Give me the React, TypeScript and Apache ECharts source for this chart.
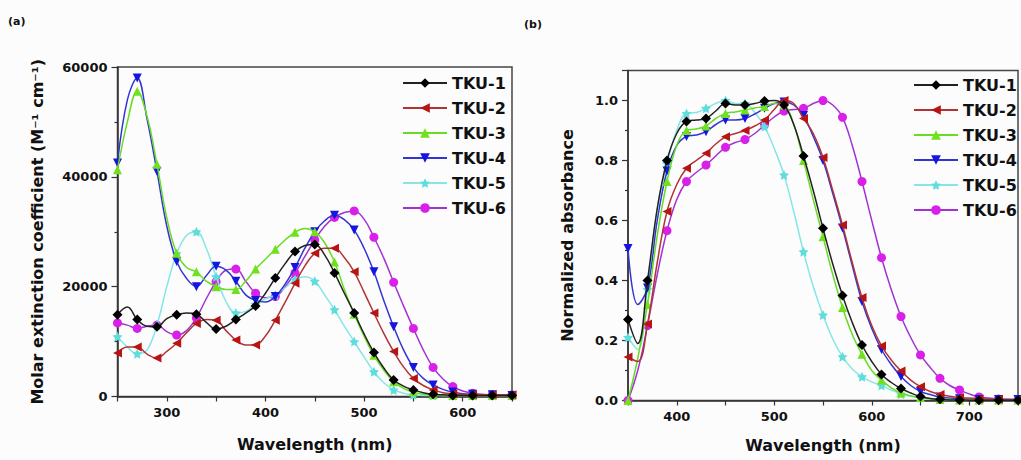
import React, { useEffect, useRef } from "react";
import * as echarts from "echarts";

const names = ["TKU-1", "TKU-2", "TKU-3", "TKU-4", "TKU-5", "TKU-6"];

// Panel (a): wavelength (nm)
const wlA = [250, 260, 270, 280, 290, 300, 310, 320, 330, 340, 350, 360, 370, 380, 390, 400, 410, 420, 430, 440, 450, 460, 470, 480, 490, 500, 510, 520, 530, 540, 550, 560, 570, 580, 590, 600, 610, 620, 630, 640, 650];
const a1 = [14900, 16300, 14000, 12800, 12700, 14200, 14900, 15200, 15000, 13500, 12300, 12800, 14000, 15200, 16500, 18800, 21600, 24200, 26400, 27500, 27700, 25800, 22500, 18800, 15200, 11400, 8000, 5200, 3000, 1900, 1200, 700, 400, 300, 200, 200, 200, 200, 200, 200, 200];
const a2 = [7900, 9000, 9000, 7700, 7000, 8200, 9700, 11600, 13300, 14000, 13900, 12000, 10300, 9400, 9400, 11000, 13900, 17200, 20600, 23800, 26100, 27000, 27000, 25300, 22700, 19000, 15200, 11500, 8200, 5400, 3300, 2000, 1200, 700, 500, 400, 300, 300, 300, 300, 300];
const a3 = [41300, 50000, 55600, 51000, 42300, 32500, 26100, 23500, 22700, 21000, 20000, 19500, 19500, 21000, 23200, 25000, 26800, 28500, 29900, 30600, 30000, 28000, 24500, 19500, 15000, 11000, 7500, 4800, 2700, 1500, 800, 400, 300, 200, 200, 200, 200, 200, 200, 200, 200];
const a4 = [42500, 54000, 58000, 50500, 41000, 31000, 24600, 21500, 20000, 22000, 23700, 23000, 21000, 18500, 17500, 17200, 18200, 20500, 23500, 27000, 30000, 32000, 33000, 32200, 30300, 27000, 22700, 17500, 12700, 8500, 5300, 3300, 2100, 1300, 800, 500, 400, 300, 300, 300, 200];
const a5 = [10900, 9000, 7800, 8500, 13000, 20000, 26000, 29300, 30000, 27000, 21800, 17300, 15200, 15500, 16800, 17800, 18500, 19800, 21300, 21800, 21000, 18500, 15800, 12800, 10000, 7200, 4500, 2500, 1200, 600, 300, 200, 200, 200, 200, 200, 200, 200, 200, 200, 200];
const a6 = [13400, 13000, 12400, 12800, 13000, 11800, 11200, 12000, 14300, 17800, 20900, 23000, 23200, 21000, 18800, 18000, 18200, 20000, 22500, 25500, 28500, 31000, 32600, 33500, 33800, 32300, 29000, 25200, 20800, 16500, 12400, 8500, 5300, 3200, 1800, 1000, 600, 400, 300, 300, 300];

// Panel (b): wavelength (nm)
const wlB = [350, 360, 370, 380, 390, 400, 410, 420, 430, 440, 450, 460, 470, 480, 490, 500, 510, 520, 530, 540, 550, 560, 570, 580, 590, 600, 610, 620, 630, 640, 650, 660, 670, 680, 690, 700, 710, 720, 730, 740, 750];
const b1 = [0.27, 0.19, 0.4, 0.64, 0.8, 0.89, 0.93, 0.935, 0.94, 0.965, 0.99, 0.985, 0.985, 0.99, 0.998, 1.0, 0.985, 0.92, 0.815, 0.7, 0.574, 0.455, 0.35, 0.26, 0.185, 0.13, 0.087, 0.06, 0.04, 0.025, 0.013, 0.007, 0.004, 0.002, 0.002, 0.001, 0.001, 0.001, 0.001, 0.001, 0.001];
const b2 = [0.145, 0.13, 0.255, 0.46, 0.63, 0.72, 0.774, 0.8, 0.824, 0.855, 0.879, 0.89, 0.9, 0.915, 0.935, 0.97, 1.0, 0.99, 0.94, 0.89, 0.81, 0.7, 0.585, 0.46, 0.343, 0.25, 0.182, 0.135, 0.098, 0.068, 0.046, 0.03, 0.02, 0.014, 0.01, 0.008, 0.006, 0.005, 0.004, 0.003, 0.003];
const b3 = [0.0, 0.14, 0.32, 0.55, 0.73, 0.85, 0.9, 0.905, 0.915, 0.94, 0.957, 0.962, 0.968, 0.975, 0.98, 0.99, 0.985, 0.92, 0.8, 0.67, 0.546, 0.42, 0.31, 0.22, 0.154, 0.1, 0.068, 0.042, 0.025, 0.015, 0.01, 0.006, 0.003, 0.003, 0.002, 0.002, 0.002, 0.002, 0.002, 0.002, 0.002];
const b4 = [0.507, 0.32, 0.375, 0.6, 0.765, 0.85, 0.88, 0.885, 0.896, 0.92, 0.935, 0.935, 0.94, 0.955, 0.974, 0.99, 0.995, 0.985, 0.95, 0.88, 0.8, 0.69, 0.575, 0.45, 0.33, 0.24, 0.17, 0.12, 0.08, 0.05, 0.03, 0.02, 0.012, 0.008, 0.006, 0.004, 0.003, 0.003, 0.003, 0.003, 0.003];
const b5 = [0.21, 0.17, 0.37, 0.64, 0.79, 0.9, 0.957, 0.96, 0.974, 0.99, 1.0, 0.99, 0.99, 0.96, 0.913, 0.84, 0.752, 0.63, 0.496, 0.38, 0.285, 0.205, 0.146, 0.105, 0.079, 0.062, 0.05, 0.035, 0.022, 0.014, 0.009, 0.005, 0.004, 0.003, 0.003, 0.003, 0.003, 0.003, 0.003, 0.003, 0.003];
const b6 = [0.0, 0.1, 0.25, 0.42, 0.566, 0.67, 0.73, 0.76, 0.785, 0.815, 0.844, 0.86, 0.87, 0.89, 0.918, 0.945, 0.965, 0.97, 0.974, 0.99, 1.0, 0.985, 0.944, 0.85, 0.73, 0.6, 0.476, 0.37, 0.28, 0.21, 0.152, 0.11, 0.074, 0.05, 0.035, 0.022, 0.012, 0.008, 0.005, 0.003, 0.002];

const STAR = "path://M0,-10L2.9,-4L9.5,-3.1L4.8,1.5L5.9,8.1L0,5L-5.9,8.1L-4.8,1.5L-9.5,-3.1L-2.9,-4Z";

const styles = [
  { line: "#222222", mark: "#000000", symbol: "diamond", rotate: 0, size: 10 },
  { line: "#b03434", mark: "#b81414", symbol: "triangle", rotate: 90, size: 9 },
  { line: "#66dd22", mark: "#6fe21c", symbol: "triangle", rotate: 0, size: 9 },
  { line: "#3434d4", mark: "#1515e0", symbol: "triangle", rotate: 180, size: 9 },
  { line: "#86e6e6", mark: "#5fdcdc", symbol: STAR, rotate: 0, size: 10 },
  { line: "#a332d2", mark: "#d820e8", symbol: "circle", rotate: 0, size: 9 },
];

const FONT = "DejaVu Sans";

function pairs(xs: number[], ys: number[]) {
  return xs.map((x, i) => [x, ys[i]]);
}

export default function App() {
  const ref = useRef<HTMLDivElement>(null);
  useEffect(() => {
    if (!ref.current) return;
    const chart = echarts.init(ref.current, undefined, { renderer: "svg" });
    const seriesA = [a1, a2, a3, a4, a5, a6];
    const seriesB = [b1, b2, b3, b4, b5, b6];
    const mk = (ys: number[], i: number, idx: number) => {
      const s = styles[i];
      return {
        name: names[i],
        type: "line",
        xAxisIndex: idx,
        yAxisIndex: idx,
        data: pairs(idx === 0 ? wlA : wlB, ys),
        smooth: 0.4,
        showAllSymbol: true,
        symbol: s.symbol,
        symbolRotate: s.rotate,
        symbolSize: (_v: any, p: any) => (p.dataIndex % 2 === 0 ? s.size : 0),
        lineStyle: { color: s.line, width: 1.5 },
        itemStyle: { color: s.mark },
        emphasis: { disabled: true },
        z: 10 - i,
      };
    };
    const axisLine = { show: true, lineStyle: { color: "#333", width: 1.5 } };
    const labelStyle = { fontFamily: FONT, fontWeight: "bold", fontSize: 13, color: "#111" };
    const nameStyle = { fontFamily: FONT, fontWeight: "bold", fontSize: 16, color: "#111" };
    const xFmt = (v: number) => (v % 100 === 0 ? String(v) : "");
    const legendBase = {
      orient: "vertical",
      itemWidth: 44,
      itemHeight: 12,
      itemGap: 9,
      selectedMode: false,
      textStyle: { fontFamily: FONT, fontWeight: "bold", fontSize: 16, color: "#111" },
      data: names,
    };
    chart.setOption({
      animation: false,
      backgroundColor: "#fcfcfc",
      grid: [
        { left: 117.5, right: 509, top: 67, bottom: 63.5, show: true, borderColor: "#444", borderWidth: 1.5, backgroundColor: "transparent" },
        { left: 628, right: -1, top: 70.5, bottom: 59.5, show: true, borderColor: "#444", borderWidth: 1.5, backgroundColor: "transparent" },
      ],
      xAxis: [
        {
          type: "value", gridIndex: 0, min: 250, max: 650, interval: 50,
          axisLine, axisTick: { show: true, length: 5, lineStyle: { color: "#333", width: 1.2 } },
          splitLine: { show: false },
          axisLabel: { ...labelStyle, margin: 9, formatter: xFmt },
          name: "Wavelength (nm)", nameLocation: "middle", nameGap: 40, nameTextStyle: nameStyle,
        },
        {
          type: "value", gridIndex: 1, min: 350, max: 750, interval: 50,
          axisLine, axisTick: { show: true, length: 5, lineStyle: { color: "#333", width: 1.2 } },
          splitLine: { show: false },
          axisLabel: { ...labelStyle, margin: 9, formatter: xFmt },
          name: "Wavelength (nm)", nameLocation: "middle", nameGap: 37, nameTextStyle: nameStyle,
        },
      ],
      yAxis: [
        {
          type: "value", gridIndex: 0, min: 0, max: 60000, interval: 20000,
          axisLine, axisTick: { show: true, length: 6, lineStyle: { color: "#333", width: 1.2 } },
          minorTick: { show: true, splitNumber: 2, length: 3, lineStyle: { color: "#333", width: 1.2 } },
          splitLine: { show: false }, minorSplitLine: { show: false },
          axisLabel: { ...labelStyle, margin: 10, formatter: (v: number) => String(v) },
          name: "Molar extinction coefficient (M\u207B\u00B9 cm\u207B\u00B9)", nameLocation: "middle", nameGap: 72, nameTextStyle: nameStyle,
        },
        {
          type: "value", gridIndex: 1, min: 0, max: 1.1, interval: 0.2,
          axisLine, axisTick: { show: true, length: 6, lineStyle: { color: "#333", width: 1.2 } },
          minorTick: { show: true, splitNumber: 2, length: 3, lineStyle: { color: "#333", width: 1.2 } },
          splitLine: { show: false }, minorSplitLine: { show: false },
          axisLabel: { ...labelStyle, margin: 10, showMaxLabel: false, formatter: (v: number) => (v > 1.05 ? "" : v.toFixed(1)) },
          name: "Normalized absorbance", nameLocation: "middle", nameGap: 53, nameTextStyle: nameStyle,
        },
      ],
      legend: [
        { ...legendBase, left: 397, top: 70 },
        { ...legendBase, left: 908, top: 72 },
      ],
      graphic: [
        { type: "text", left: 8, top: 16, style: { text: "(a)", fontFamily: FONT, fontWeight: "bold", fontSize: 11, fill: "#111" } },
        { type: "text", left: 524, top: 19, style: { text: "(b)", fontFamily: FONT, fontWeight: "bold", fontSize: 11, fill: "#111" } },
      ],
      series: [
        ...seriesA.map((ys, i) => mk(ys, i, 0)),
        ...seriesB.map((ys, i) => mk(ys, i, 1)),
      ],
    });
    return () => chart.dispose();
  }, []);
  return (
    <div
      ref={ref}
      style={{ position: "fixed", left: 0, top: 0, width: 1021, height: 460 }}
    />
  );
}
